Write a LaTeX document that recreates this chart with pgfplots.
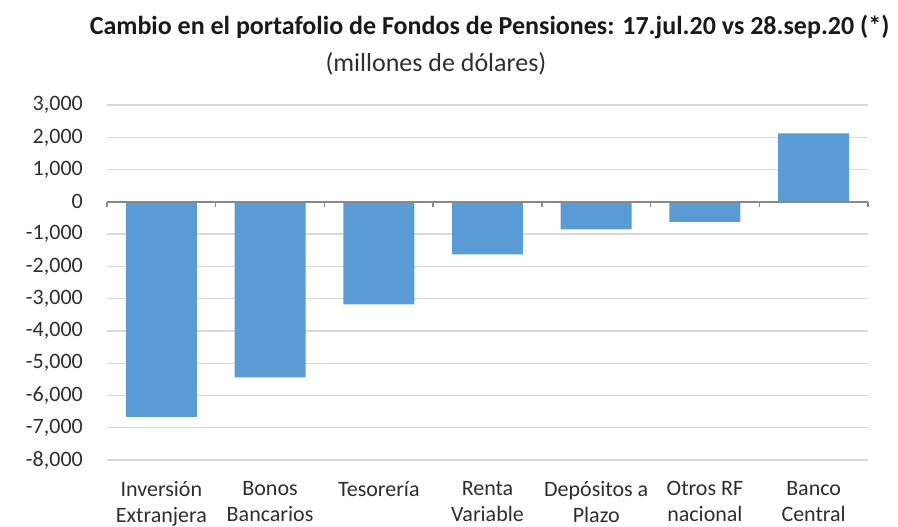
\documentclass[border=0pt]{standalone}
\usepackage{pgfplots}
\pgfplotsset{compat=1.18}
\usepackage{fontspec}
\setmainfont{Carlito}
\definecolor{barblue}{HTML}{5B9BD5}
\definecolor{gridgray}{HTML}{D9D9D9}
\definecolor{axisgray}{HTML}{888888}
\begin{document}
\begin{tikzpicture}
\path[use as bounding box] (-107pt,-67pt) rectangle (791pt,460pt);
\begin{axis}[
  at={(0,0)}, anchor=south west, scale only axis,
  width=761pt, height=355pt,
  xmin=0.5, xmax=7.5, ymin=-8000, ymax=3000,
  ytick={-8000,-7000,...,3000},
  xtick={1,2,3,4,5,6,7},
  xticklabels={{Inversión\\Extranjera},{Bonos\\Bancarios},{Tesorería},{Renta\\Variable},{Depósitos a\\Plazo},{Otros RF\\nacional},{Banco\\Central}},
  xticklabel style={align=center, font=\fontsize{22}{26}\selectfont, anchor=north, inner sep=0pt, yshift=-21pt, text=black!82},
  yticklabel style={font=\fontsize{22}{26}\selectfont, anchor=east, inner sep=0pt, xshift=-24pt, text=black!82},
  axis line style={draw=none},
  major tick length=0pt,
  ymajorgrids, grid style={gridgray, line width=1.3pt},
  ybar, bar width=71pt, bar shift=0pt,
  /pgf/number format/1000 sep={,},
  /pgf/number format/assume math mode=true,
  clip=false,
]
\addplot[fill=barblue, draw=none] coordinates {
  (1,-6660) (2,-5440) (3,-3180) (4,-1630) (5,-855) (6,-620) (7,2120)
};
\draw[axisgray, line width=1.5pt] (axis cs:0.5,0) -- (axis cs:7.5,0);
\pgfplotsinvokeforeach{0.5,1.5,2.5,3.5,4.5,5.5,6.5,7.5}{
  \draw[axisgray, line width=1.3pt] (axis cs:#1,0) -- ([yshift=-5pt]axis cs:#1,0);
}
\end{axis}
\node[anchor=base, font=\bfseries\fontsize{26}{30}\selectfont, text=black!90] at (382.5pt,425pt) {Cambio en el portafolio de Fondos de Pensiones: 17.jul.20 vs 28.sep.20 (*)};
\node[anchor=base, font=\fontsize{26}{30}\selectfont, text=black!82] at (329pt,388pt) {(millones de dólares)};
\end{tikzpicture}
\end{document}
